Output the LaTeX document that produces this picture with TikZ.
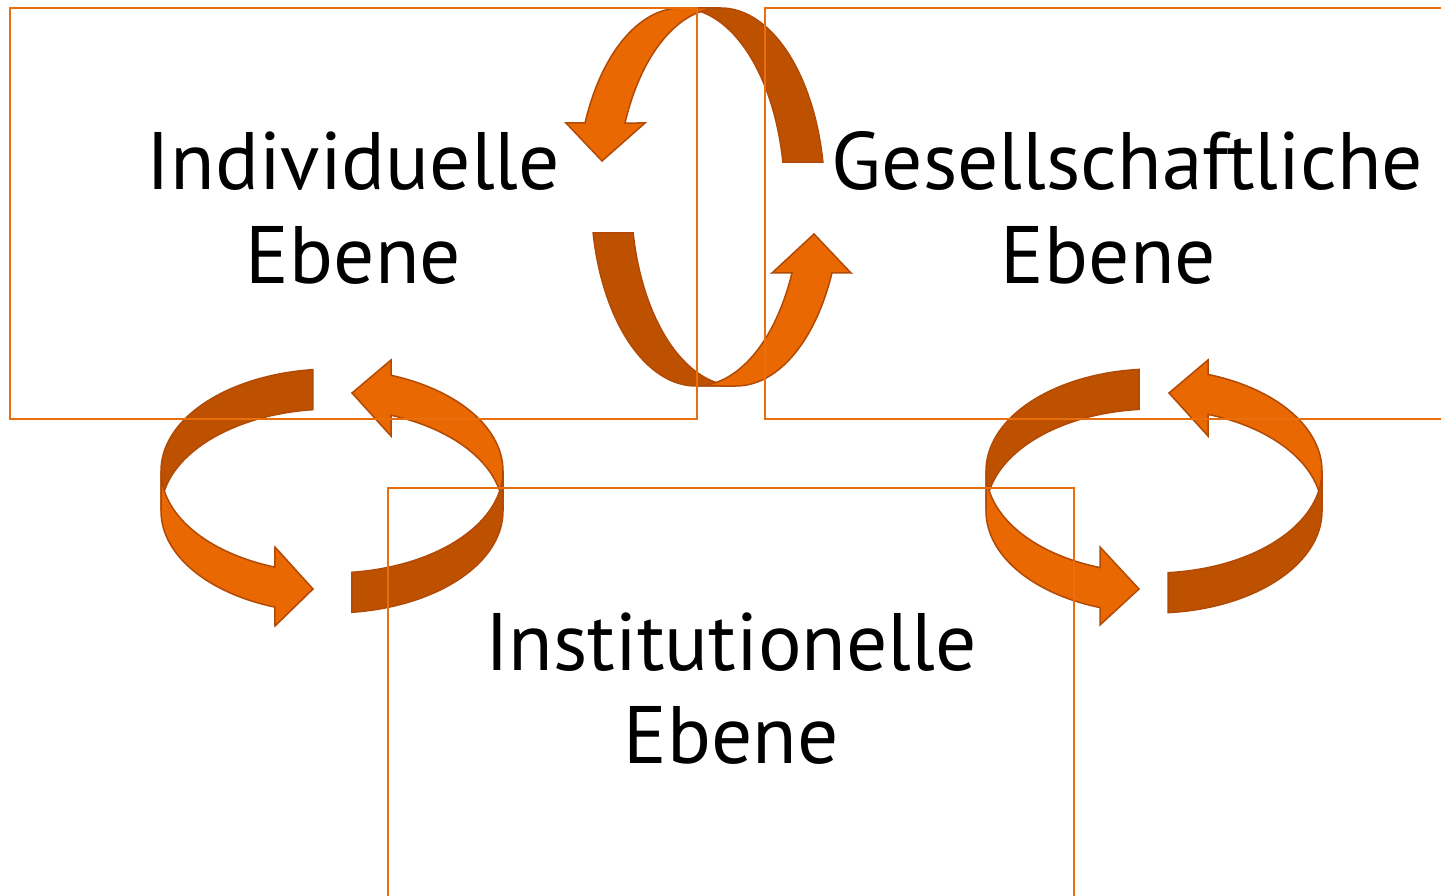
\documentclass[tikz,border=0pt]{standalone}
\usepackage{fontspec}
\setmainfont{PT Sans}
\definecolor{lightor}{RGB}{233,104,2}
\definecolor{darkor}{RGB}{190,81,0}
\definecolor{edgeor}{RGB}{178,74,6}
\definecolor{rector}{RGB}{232,110,14}
\begin{document}
\begin{tikzpicture}[x=1pt,y=-1pt,
  lightband/.style={fill=lightor, draw=edgeor, line width=1.5pt},
  darkband/.style={fill=darkor, draw=edgeor, line width=1.5pt},
  panel/.style={draw=rector, line width=2pt, inner sep=0pt},
  lbl/.style={font=\fontsize{81.5}{93.7}\selectfont, align=center, inner sep=0pt, text=black}]
\clip (0,0) rectangle (1441,896);
% ---- vertical ring (top centre): two ellipses shifted by the band width
\path[darkband] plot[domain=10.67:90, samples=40] ({720.7+104*cos(\x)},{197-189*sin(\x)})
   -- plot[domain=90:10.67, samples=40] ({680.7+104*cos(\x)},{197-189*sin(\x)}) -- cycle;
\path[lightband] plot[domain=90:156.95, samples=40] ({680.7+104*cos(\x)},{197-189*sin(\x)})
   -- (566,123) -- (602,161) -- (645,123)
   -- plot[domain=156.95:90, samples=40] ({720.7+104*cos(\x)},{197-189*sin(\x)}) -- cycle;
\path[darkband] plot[domain=190.98:270, samples=40] ({696+104.8*cos(\x)},{197-189*sin(\x)})
   -- plot[domain=270:190.98, samples=40] ({736+104.8*cos(\x)},{197-189*sin(\x)}) -- cycle;
\path[lightband] plot[domain=270:336.29, samples=40] ({736+104.8*cos(\x)},{197-189*sin(\x)})
   -- (851,273) -- (814,234) -- (772,273)
   -- plot[domain=336.29:270, samples=40] ({696+104.8*cos(\x)},{197-189*sin(\x)}) -- cycle;
% ---- left horizontal ring
\path[darkband] plot[domain=96.4:180, samples=40] ({332+171*cos(\x)},{471-102*sin(\x)})
   -- plot[domain=180:96.4, samples=40] ({332+171*cos(\x)},{511-102*sin(\x)}) -- cycle;
\path[lightband] plot[domain=0:69.8, samples=40] ({332+171*cos(\x)},{511-102*sin(\x)})
   -- (391,436) -- (352,393) -- (391,360)
   -- plot[domain=69.8:0, samples=40] ({332+171*cos(\x)},{471-102*sin(\x)}) -- cycle;
\path[lightband] plot[domain=180:250.5, samples=40] ({332+171*cos(\x)},{471-102*sin(\x)})
   -- (275,547) -- (313,589) -- (275,626)
   -- plot[domain=250.5:180, samples=40] ({332+171*cos(\x)},{511-102*sin(\x)}) -- cycle;
\path[darkband] plot[domain=276.7:360, samples=40] ({332+171*cos(\x)},{471-102*sin(\x)})
   -- plot[domain=360:276.7, samples=40] ({332+171*cos(\x)},{511-102*sin(\x)}) -- cycle;
% ---- right horizontal ring
\path[darkband] plot[domain=95.1:180, samples=40] ({1154+168*cos(\x)},{471-102*sin(\x)})
   -- plot[domain=180:95.1, samples=40] ({1154+168*cos(\x)},{511-102*sin(\x)}) -- cycle;
\path[lightband] plot[domain=0:71.25, samples=40] ({1154+168*cos(\x)},{511-102*sin(\x)})
   -- (1208,436) -- (1169,393) -- (1208,360)
   -- plot[domain=71.25:0, samples=40] ({1154+168*cos(\x)},{471-102*sin(\x)}) -- cycle;
\path[lightband] plot[domain=180:251.25, samples=40] ({1154+168*cos(\x)},{471-102*sin(\x)})
   -- (1100,547) -- (1139,589) -- (1100,625)
   -- plot[domain=251.25:180, samples=40] ({1154+168*cos(\x)},{511-102*sin(\x)}) -- cycle;
\path[darkband] plot[domain=274.8:360, samples=40] ({1154+168*cos(\x)},{471-102*sin(\x)})
   -- plot[domain=360:274.8, samples=40] ({1154+168*cos(\x)},{511-102*sin(\x)}) -- cycle;
% ---- panels
\node[panel, minimum width=687pt, minimum height=411pt] (pind) at (353.5,213.5) {};
\node[panel, minimum width=687pt, minimum height=411pt] (pges) at (1108.5,213.5) {};
\node[panel, minimum width=686pt, minimum height=411pt] (pins) at (731,693.5) {};
% ---- labels
\node[lbl] (tind) at (353.5,208) {Individuelle\\Ebene};
\node[lbl] (tges) at (1108.5,208) {\hspace*{38pt}Gesellschaftliche\\Ebene};
\node[lbl] (tins) at (731,688.5) {Institutionelle\\Ebene};
\end{tikzpicture}
\end{document}
